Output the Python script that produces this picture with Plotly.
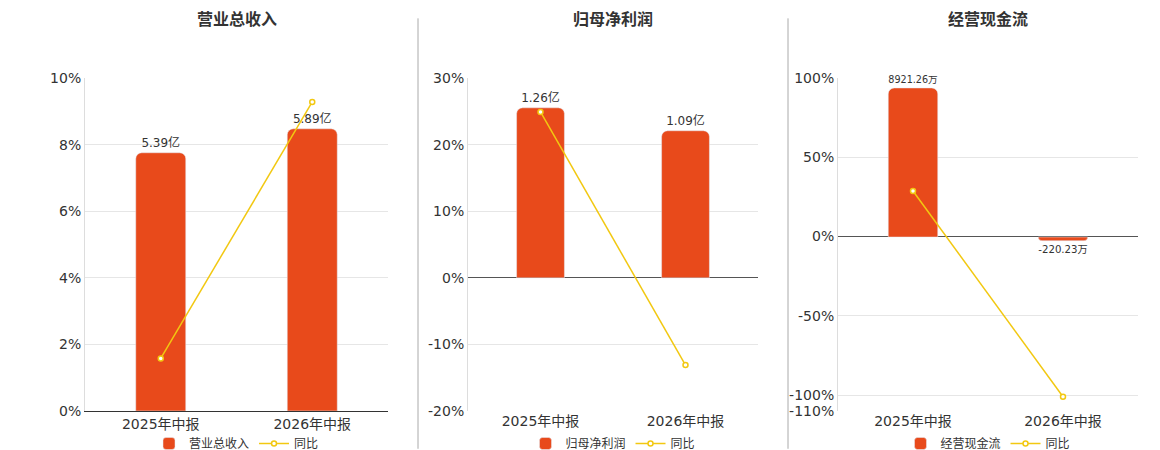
import plotly.graph_objects as go

categories = ["2025年中报", "2026年中报"]
titles = ["营业总收入", "归母净利润", "经营现金流"]

revenue = [5.39, 5.89]
revenue_text = ["5.39亿", "5.89亿"]
revenue_yoy = [1.58, 9.28]

profit = [1.26, 1.09]
profit_text = ["1.26亿", "1.09亿"]
profit_yoy = [24.9, -13.1]

cash = [8921.26, -220.23]
cash_text = ["8921.26万", "-220.23万"]
cash_yoy = [28.75, -101.0]

bar_color = "#E84A1B"
line_color = "#F2C811"

panels = [
    dict(bars=revenue, text=revenue_text, yoy=revenue_yoy, bar_range=[0, 6.95],
         pct_range=[0, 10], ticks=[0, 2, 4, 6, 8, 10], dom=[77, 380]),
    dict(bars=profit, text=profit_text, yoy=profit_yoy, bar_range=[-0.987, 1.481],
         pct_range=[-20, 30], ticks=[-20, -10, 0, 10, 20, 30], dom=[460, 750]),
    dict(bars=cash, text=cash_text, yoy=cash_yoy, bar_range=[-10409, 9516],
         pct_range=[-110, 100], ticks=[-110, -100, -50, 0, 50, 100], dom=[830, 1130]),
]

W = 1160
fig = go.Figure()
layout = dict(
    width=W, height=450, margin=dict(l=0, r=0, t=70, b=45),
    paper_bgcolor="white", plot_bgcolor="white",
    font=dict(family="DejaVu Sans, Noto Sans CJK SC, sans-serif", size=13, color="#333"),
    showlegend=True, annotations=[], shapes=[],
)

for i, p in enumerate(panels):
    n = i + 1
    xa = "x" if n == 1 else f"x{n}"
    yb = "y" if n == 1 else f"y{n}"
    yl = f"y{n + 3}"
    leg = "legend" if n == 1 else f"legend{n}"
    fig.add_trace(go.Bar(
        x=categories, y=p["bars"], text=p["text"], textposition="outside",
        textfont=dict(size=12, color="#333"), cliponaxis=False,
        marker=dict(color=bar_color, cornerradius=6), width=0.33,
        name=titles[i], xaxis=xa, yaxis=yb, legend=leg,
    ))
    fig.add_trace(go.Scatter(
        x=categories, y=p["yoy"], mode="lines+markers", name="同比",
        line=dict(color=line_color, width=1.5),
        marker=dict(size=5, color="white", line=dict(color=line_color, width=1.5)),
        xaxis=xa, yaxis=yl, legend=leg,
    ))
    d = [p["dom"][0] / W, p["dom"][1] / W]
    layout[f"xaxis{'' if n == 1 else n}"] = dict(
        domain=d, anchor=yb, showline=(n == 1), linecolor="#333",
        tickfont=dict(size=14), ticks="", showgrid=False)
    layout[f"yaxis{'' if n == 1 else n}"] = dict(
        anchor=xa, range=p["bar_range"], visible=False, showgrid=False)
    layout[f"yaxis{n + 3}"] = dict(
        anchor=xa, overlaying=yb, side="left", range=p["pct_range"],
        tickmode="array", tickvals=p["ticks"], ticktext=[f"{t}%" for t in p["ticks"]],
        tickfont=dict(size=14),
        gridcolor="#e6e6e6", zeroline=True, zerolinecolor="#555", zerolinewidth=1,
        showline=True, linecolor="#ddd")
    layout[leg] = dict(orientation="h", x=(d[0] + d[1]) / 2, xanchor="center",
                       y=-0.055, yanchor="top", font=dict(size=12),
                       bgcolor="rgba(0,0,0,0)")
    layout["annotations"].append(dict(
        text=f"<b>{titles[i]}</b>", xref="paper", yref="paper", showarrow=False,
        x=(d[0] + d[1]) / 2, y=1.21, xanchor="center", font=dict(size=16, color="#333")))

for xp in [410, 780]:
    layout["shapes"].append(dict(type="line", xref="paper", yref="paper",
                                 x0=xp / W, x1=xp / W, y0=(405 - 443) / 335, y1=(405 - 10) / 335,
                                 line=dict(color="#aaa", width=1)))

fig.update_layout(**layout)
fig.write_html("out.html")
